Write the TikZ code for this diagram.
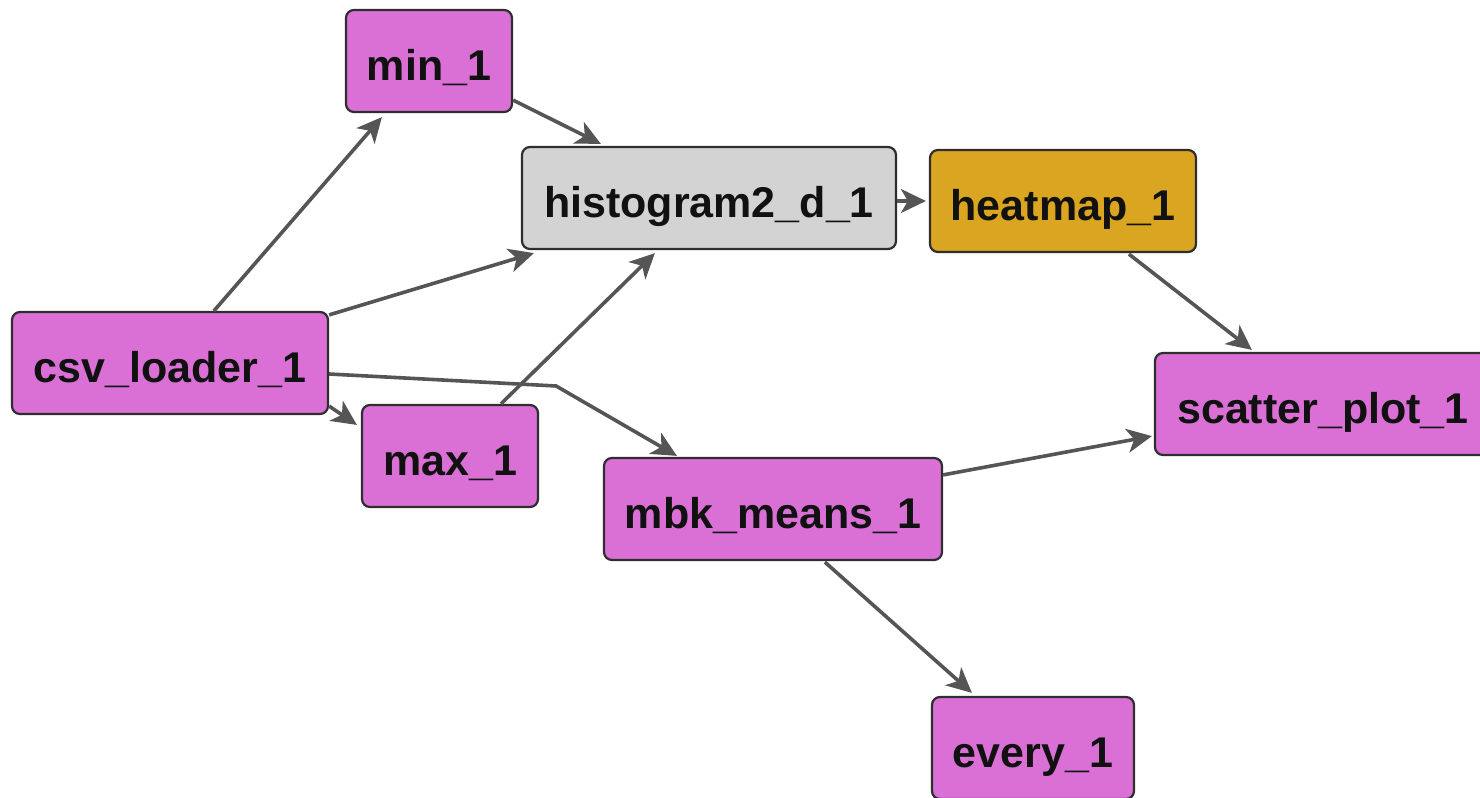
\documentclass[tikz,border=0pt]{standalone}
\usepackage{fontspec}
\setmainfont{Liberation Sans}
\usetikzlibrary{arrows.meta,calc}
\definecolor{orchidfill}{HTML}{DA70D6}
\definecolor{greyfill}{HTML}{D3D3D3}
\definecolor{goldfill}{HTML}{DAA520}
\definecolor{edgegrey}{HTML}{555555}
\definecolor{boxline}{HTML}{2E2E2E}
\definecolor{labeltext}{HTML}{111111}
\begin{document}
\begin{tikzpicture}[x=0.5pt,y=-0.5pt,
  box/.style={draw=boxline,line width=1.1pt,rounded corners=4pt,
    text=labeltext,font=\bfseries\fontsize{21.5}{24}\selectfont,
    text height=19pt,text depth=0pt,inner sep=0pt,minimum height=51pt},
  taskbox/.style={box,fill=orchidfill},
  histbox/.style={box,fill=greyfill},
  heatbox/.style={box,fill=goldfill},
  flow/.style={draw=edgegrey,line width=1.8pt,
    -{Stealth[length=12.5pt,width=12pt,inset=3.5pt]}}]
\useasboundingbox (0,0) rectangle (1480,798);

% nodes
\node[taskbox,minimum width=83pt]  (min)     at (429,61)   {min\_1};
\node[histbox,minimum width=187pt] (hist)    at (709,198)  {histogram2\_d\_1};
\node[heatbox,minimum width=133pt] (heat)    at (1063,201) {heatmap\_1};
\node[taskbox,minimum width=158pt] (csv)     at (170,363)  {csv\_loader\_1};
\node[taskbox,minimum width=88pt]  (max)     at (450,456)  {max\_1};
\node[taskbox,minimum width=169pt] (mbk)     at (773,509)  {mbk\_means\_1};
\node[taskbox,minimum width=168pt] (scatter) at (1323,404) {scatter\_plot\_1};
\node[taskbox,minimum width=101pt] (every)   at (1033,748) {every\_1};

% connectors
\draw[flow] ($(csv.north west)+(203,0)$) -- ($(min.south west)+(37,4)$);
\draw[flow] ($(csv.north east)+(0,4)$) -- ($(hist.south west)+(13,3)$);
\draw[flow] ($(csv.south east)+(0,-9)$) -- ($(max.north west)+(-4,21)$);
\coordinate (bend) at ($(csv.east)+(227,23)$);
\draw[flow] ($(csv.east)+(0,11)$) -- (bend) -- ($(mbk.north west)+(74,-1)$);
\draw[flow] ($(min.south east)+(0,-13)$) -- ($(hist.north west)+(80,-2)$);
\draw[flow] ($(max.north west)+(140,0)$) -- ($(hist.south west)+(134,3)$);
\draw[flow] ($(hist.east)+(0,3)$) -- ($(heat.west)+(-3,0)$);
\draw[flow] ($(heat.south west)+(200,1)$) -- ($(scatter.north west)+(98,-2)$);
\draw[flow] ($(mbk.north east)+(0,18)$) -- ($(scatter.south west)+(-2,-20)$);
\draw[flow] ($(mbk.south west)+(222,1)$) -- ($(every.north west)+(41,-3)$);
\end{tikzpicture}
\end{document}
